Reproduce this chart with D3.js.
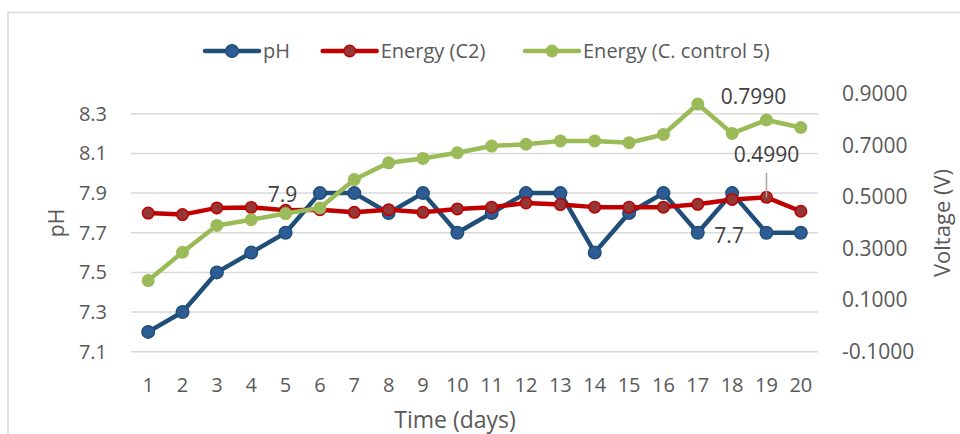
<!DOCTYPE html>
<html><head><meta charset="utf-8">
<script src="https://cdn.jsdelivr.net/npm/d3@7"></script>
<style>
html,body{margin:0;padding:0;background:#fff;overflow:hidden;}
text{font-family:"Open Sans","Noto Sans",sans-serif;}
</style></head>
<body><svg id="c" width="960" height="434"></svg>
<script>
const days = ["1","2","3","4","5","6","7","8","9","10","11","12","13","14","15","16","17","18","19","20"];
const phValues = [7.2,7.3,7.5,7.6,7.7,7.9,7.9,7.8,7.9,7.7,7.8,7.9,7.9,7.6,7.8,7.9,7.7,7.9,7.7,7.7];
const energyC2 = [0.438,0.432,0.458,0.460,0.449,0.451,0.441,0.451,0.441,0.454,0.461,0.477,0.471,0.461,0.461,0.461,0.472,0.491,0.499,0.445];
const energyCC5 = [0.176,0.286,0.390,0.412,0.436,0.458,0.568,0.633,0.650,0.672,0.698,0.705,0.718,0.718,0.711,0.743,0.861,0.747,0.799,0.770];
const phTicks = [7.1,7.3,7.5,7.7,7.9,8.1,8.3];
const voltTicks = [-0.1,0.1,0.3,0.5,0.7,0.9];
const seriesNames = ["pH","Energy (C2)","Energy (C. control 5)"];
const labels = [
  {text:"7.9", day:"5", value:7.9, axis:"left"},
  {text:"7.7", day:"18", value:7.7, axis:"left"},
  {text:"0.7990", day:"19", value:0.799, axis:"right"},
  {text:"0.4990", day:"19", value:0.499, axis:"right"}
];

const svg = d3.select("#c");
const L = 131, R = 818, T = 94, B = 351.7;
const x = d3.scaleBand().domain(days).range([L, R]).padding(0);
const cx = d => x(d) + x.bandwidth()/2;
const yL = d3.scaleLinear().domain([7.1, 8.4]).range([B, T]);
const yR = d3.scaleLinear().domain([-0.1, 0.9]).range([B, T]);
const grey = "#595959";

// chart border
svg.append("rect").attr("x",8).attr("y",12.5).attr("width",1000).attr("height",500)
  .attr("fill","none").attr("stroke","#d9d9d9").attr("stroke-width",1.5);

// gridlines
svg.append("g").selectAll("line").data(phTicks).join("line")
  .attr("x1",L).attr("x2",R).attr("y1",d=>yL(d)).attr("y2",d=>yL(d))
  .attr("stroke","#d9d9d9").attr("stroke-width",1.5);

// axes
const fmtV = d => d3.format(".4f")(d).replace("\u2212","-");
const axL = svg.append("g").attr("transform",`translate(${L},0)`)
  .call(d3.axisLeft(yL).tickValues(phTicks).tickFormat(d3.format(".1f")).tickSize(0).tickPadding(24));
const axR = svg.append("g").attr("transform",`translate(${R},0)`)
  .call(d3.axisRight(yR).tickValues(voltTicks).tickFormat(fmtV).tickSize(0).tickPadding(24));
const axB = svg.append("g").attr("transform",`translate(0,${B})`)
  .call(d3.axisBottom(x).tickSize(0).tickPadding(26));
[axL,axR,axB].forEach(a=>{
  a.select(".domain").remove();
  a.selectAll("text").attr("fill",grey).style("font-family","'Open Sans'");
});
axL.selectAll("text").style("font-size","20px");
axR.selectAll("text").style("font-size","21px");
axB.selectAll("text").style("font-size","20px");

// axis titles
svg.append("text").attr("transform",`translate(57,223) rotate(-90)`).attr("text-anchor","middle")
  .attr("dy","0.35em").attr("fill",grey).style("font-size","21px").text("pH");
svg.append("text").attr("transform",`translate(942,223) rotate(-90)`).attr("text-anchor","middle")
  .attr("dy","0.35em").attr("fill",grey).style("font-size","22px").text("Voltage (V)");
svg.append("text").attr("x",455).attr("y",428).attr("text-anchor","middle")
  .attr("fill",grey).style("font-size","23px").text("Time (days)");

// series
const series = [
  {name:seriesNames[0], vals:phValues, y:yL, line:"#1f4e79", fill:"#2e5c94", stroke:"#1f4e79", r:7},
  {name:seriesNames[1], vals:energyC2, y:yR, line:"#c00000", fill:"#953735", stroke:"#c00000", r:6.5},
  {name:seriesNames[2], vals:energyCC5, y:yR, line:"#9bbb59", fill:"#9bbb59", stroke:"#9bbb59", r:6.5}
];
series.forEach(s=>{
  const g = svg.append("g");
  const ln = d3.line().x((d,i)=>cx(days[i])).y(d=>s.y(d));
  g.append("path").datum(s.vals).attr("d",ln).attr("fill","none")
    .attr("stroke",s.line).attr("stroke-width",4.5).attr("stroke-linejoin","round");
  g.selectAll("circle").data(s.vals).join("circle")
    .attr("cx",(d,i)=>cx(days[i])).attr("cy",d=>s.y(d)).attr("r",s.r-0.75)
    .attr("fill",s.fill).attr("stroke",s.stroke).attr("stroke-width",1.5);
});

// data labels
const lblPos = {"7.9":[-3,2], "7.7":[-3,3], "0.7990":[-13,-23], "0.4990":[0,-42.5]};
labels.forEach(lb=>{
  const sc = lb.axis==="left"? yL : yR;
  const px = cx(lb.day), py = sc(lb.value);
  const off = lblPos[lb.text];
  if (lb.text==="0.4990") {
    svg.append("line").attr("x1",px).attr("x2",px).attr("y1",py-24.5).attr("y2",py)
      .attr("stroke","#a6a6a6").attr("stroke-width",1.5);
  }
  svg.append("text").attr("x",px+off[0]).attr("y",py+off[1]).attr("dy","0.35em")
    .attr("text-anchor","middle").attr("fill","#404040").style("font-size","21px").text(lb.text);
});

// legend
const legX = [205, 322.7, 525];
const lg = svg.append("g");
series.forEach((s,i)=>{
  const x0 = legX[i], ly = 51;
  lg.append("line").attr("x1",x0).attr("x2",x0+54).attr("y1",ly).attr("y2",ly)
    .attr("stroke",s.line).attr("stroke-width",4.5).attr("stroke-linecap","round");
  lg.append("circle").attr("cx",x0+27).attr("cy",ly).attr("r",s.r-0.75)
    .attr("fill",s.fill).attr("stroke",s.stroke).attr("stroke-width",1.5);
  lg.append("text").attr("x",x0+58).attr("y",ly).attr("dy","0.35em").attr("fill",grey)
    .style("font-size","20px").text(s.name);
});
</script></body></html>
